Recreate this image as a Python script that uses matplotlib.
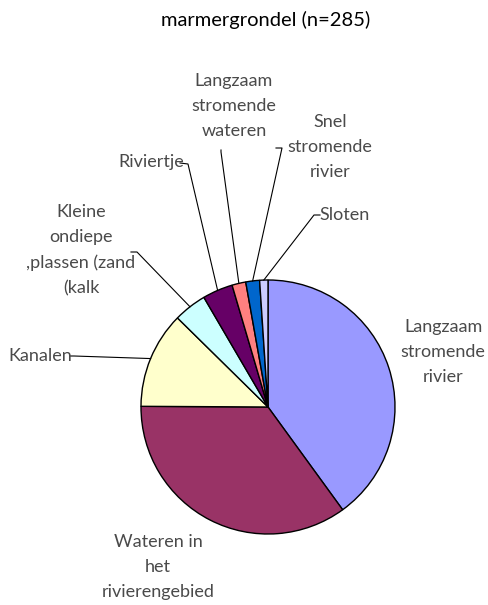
import matplotlib.pyplot as plt
import numpy as np

# data (counts, n=285)
labels = ['Langzaam\nstromende\nrivier', 'Wateren in\nhet\nrivierengebied', 'Kanalen',
          'Kleine\nondiepe\n,plassen (zand\n(kalk', 'Riviertje', 'Langzaam\nstromende\nwateren',
          'Snel\nstromende\nrivier', 'Sloten']
counts = [114, 100, 35, 12, 11, 5, 5, 3]
colors = ['#9999FF', '#993366', '#FFFFCC', '#CCFFFF', '#660066', '#FF8080', '#0066CC', '#CCCCFF']

# label layout in pixel coords (x, y from top), text anchor and elbow
label_pos = [(443, 352), (158, 567), (40, 356), (81, 250), (151, 162), (234, 106), (330, 147), (345, 215)]
anchor = [None, None, (70, 356), (131, 252), (180, 163), (221, 150), (276, 148), (320, 215)]
elbow = [None, None, (74, 356), (137, 252), (188, 164), (221, 152), (282, 148), (314, 215)]

W, H = 488, 605
cx, cy, r = 268, 407, 127

fig = plt.figure(figsize=(W / 100, H / 100), dpi=100)
ax = fig.add_axes([0, 0, 1, 1])

wedges, _ = ax.pie(counts, colors=colors, startangle=90, counterclock=False,
                   center=(cx, H - cy), radius=r,
                   wedgeprops=dict(edgecolor='black', linewidth=1.0))
ax.set_xlim(0, W)
ax.set_ylim(0, H)
ax.set_aspect('equal')
ax.axis('off')

font = dict(family=['Lato', 'DejaVu Sans'], color='#4a4a4a', fontsize=13)

for i, w in enumerate(wedges):
    tx, ty = label_pos[i]
    ax.text(tx, H - ty, labels[i], ha='center', va='center', linespacing=1.7, **font)
    if anchor[i] is None:
        continue
    mid = np.deg2rad((w.theta1 + w.theta2) / 2)
    ex, ey = cx + r * np.cos(mid), (H - cy) + r * np.sin(mid)
    ax_, ay_ = anchor[i]
    bx, by = elbow[i]
    ax.plot([ax_, bx, ex], [H - ay_, H - by, ey], color='black', linewidth=0.8)

ax.text(266, H - 20, 'marmergrondel (n=285)', ha='center', va='center',
        family=['Lato', 'DejaVu Sans'], fontsize=14.5, color='black')

fig.savefig('out.png', dpi=100)
